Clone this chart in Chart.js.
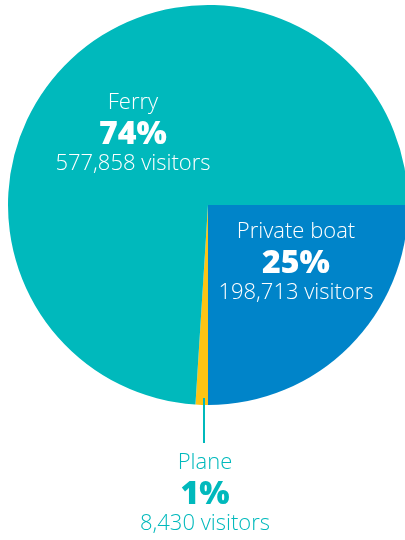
<!DOCTYPE html>
<html>
<head>
<meta charset="utf-8">
<script src="https://cdn.jsdelivr.net/npm/chart.js@4"></script>
<style>
  html, body { margin: 0; padding: 0; background: #fff; overflow: hidden; }
  #wrap { position: absolute; left: 0; top: 0; width: 420px; height: 540px; }
</style>
</head>
<body>
<div id="wrap"><canvas id="pie"></canvas></div>
<script>
// arrival mode, order starts at 3 o'clock and goes clockwise
const modes = ["Private boat", "Plane", "Ferry"];
const shares = [25, 1, 74];
const visitors = ["198,713", "8,430", "577,858"];
const colours = ["#0084c9", "#fdc414", "#00b9bc"];

const TEAL = "#00b9bc";
const FONT = "'Open Sans', 'DejaVu Sans', sans-serif";

// where each label block sits, as fractions of the radius from the centre
const labelAt = {
    "Ferry": [-0.375, -0.305],
    "Private boat": [0.44, 0.34]
};

function drawBlock(ctx, x, y, name, pct, count, colour){
    ctx.fillStyle = colour;
    ctx.textAlign = "center";
    ctx.textBaseline = "alphabetic";
    ctx.font = "300 22px " + FONT;
    ctx.fillText(name, x, y - 35);
    ctx.font = "800 32px " + FONT;
    ctx.fillText(pct + "%", x, y);
    ctx.font = "300 22px " + FONT;
    ctx.fillText(count + " visitors", x, y + 26);
}

const labelsPlugin = {
    id: "blockLabels",
    afterDraw(chart){
        const ctx = chart.ctx;
        const arcs = chart.getDatasetMeta(0).data;
        const cx = arcs[0].x, cy = arcs[0].y, r = arcs[0].outerRadius;
        ctx.save();
        modes.forEach((m, i) => {
            if(labelAt[m]){
                const p = labelAt[m];
                drawBlock(ctx, cx + p[0]*r, cy + p[1]*r, m, shares[i], visitors[i], "#fff");
            }
        });
        // plane slice is too thin, its label goes below with a leader line
        const i = modes.indexOf("Plane");
        const lx = cx - 4;
        ctx.strokeStyle = TEAL;
        ctx.lineWidth = 2;
        ctx.beginPath();
        ctx.moveTo(lx, cy + r - 7);
        ctx.lineTo(lx, cy + r + 38);
        ctx.stroke();
        drawBlock(ctx, cx - 3, cy + r + 99, modes[i], shares[i], visitors[i], TEAL);
        ctx.restore();
    }
};

new Chart(document.getElementById("pie"), {
    type: "pie",
    data: {
        labels: modes,
        datasets: [{
            data: shares,
            backgroundColor: colours,
            borderWidth: 0
        }]
    },
    options: {
        responsive: true,
        maintainAspectRatio: false,
        rotation: 90,
        animation: false,
        layout: { padding: { left: 8, right: 12, top: 5, bottom: 135 } },
        plugins: {
            legend: { display: false },
            tooltip: { enabled: false }
        }
    },
    plugins: [labelsPlugin]
});
</script>
</body>
</html>
